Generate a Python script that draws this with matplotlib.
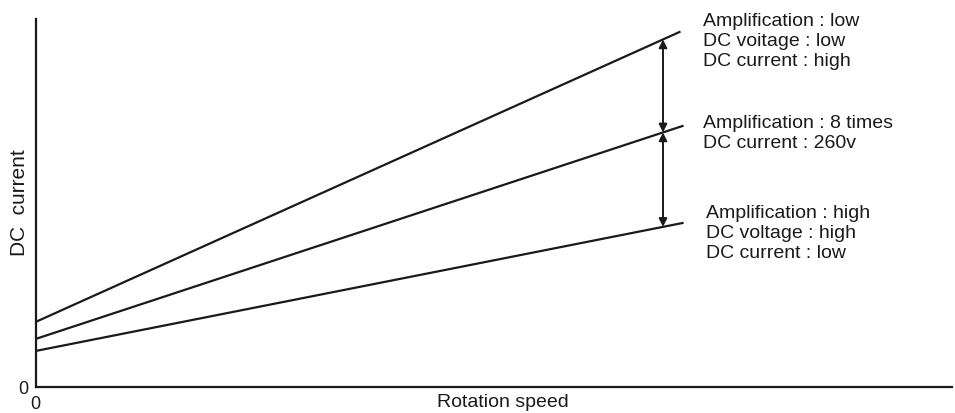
import matplotlib.pyplot as plt

plt.rcParams['font.family'] = ['Liberation Sans', 'DejaVu Sans']

# rotation speed range covered by the three characteristic lines
speed = [0, 644]
speed_end = [0, 647]

# DC current at start and end of each line
i_low_amp = [65, 355]
i_8_times = [48, 261]
i_high_amp = [36, 164]

arrow_x = 627.5

notes_low = ["Amplification : low", "DC voitage : low", "DC current : high"]
notes_mid = ["Amplification : 8 times", "DC current : 260v"]
notes_high = ["Amplification : high", "DC voltage : high", "DC current : low"]

ink = '#1a1a1a'
fs = 14

fig = plt.figure(figsize=(9.55, 4.14), dpi=100)
ax = fig.add_axes([35.5 / 955, 26 / 414, 916.5 / 955, 368 / 414])

ax.plot(speed, i_low_amp, c=ink, lw=1.6)
ax.plot(speed_end, i_8_times, c=ink, lw=1.6)
ax.plot(speed_end, i_high_amp, c=ink, lw=1.6)

def at(xs, ys, x):
    return ys[0] + (ys[1] - ys[0]) * (x - xs[0]) / (xs[1] - xs[0])

y1 = at(speed, i_low_amp, arrow_x)
y2 = at(speed_end, i_8_times, arrow_x)
y3 = at(speed_end, i_high_amp, arrow_x)
for a, b in [(y1, y2), (y2, y3)]:
    ax.annotate('', xy=(arrow_x, a), xytext=(arrow_x, b),
                arrowprops=dict(arrowstyle='<|-|>', color=ink, lw=1.4,
                                mutation_scale=12, shrinkA=0, shrinkB=0))

def block(x, y, lines):
    for k, s in enumerate(lines):
        ax.text(x, y - 20 * k, s, fontsize=fs, va='baseline', ha='left', color=ink)

block(667.5, 362.3, notes_low)
block(667.5, 259.7, notes_mid)
block(670.5, 169.7, notes_high)

ax.set_xlim(0, 916.5)
ax.set_ylim(0, 368)
ax.spines['top'].set_visible(False)
ax.spines['right'].set_visible(False)
for side in ['left', 'bottom']:
    ax.spines[side].set_linewidth(1.6)
    ax.spines[side].set_color(ink)
ax.set_xticks([0])
ax.set_yticks([0])
ax.set_xticklabels(['0'])
ax.set_yticklabels(['0'])
ax.tick_params(length=0, labelsize=13, colors=ink)
ax.tick_params(axis='y', pad=5)
ax.tick_params(axis='x', pad=5.5)

ax.set_xlabel('Rotation speed', fontsize=fs, color=ink, va='baseline')
ax.xaxis.set_label_coords(467, -19, transform=ax.transData)
ax.set_ylabel('DC  current', fontsize=15, color=ink)
ax.yaxis.set_label_coords(-0.0076, 0.503)

fig.savefig('out.png', dpi=100)
